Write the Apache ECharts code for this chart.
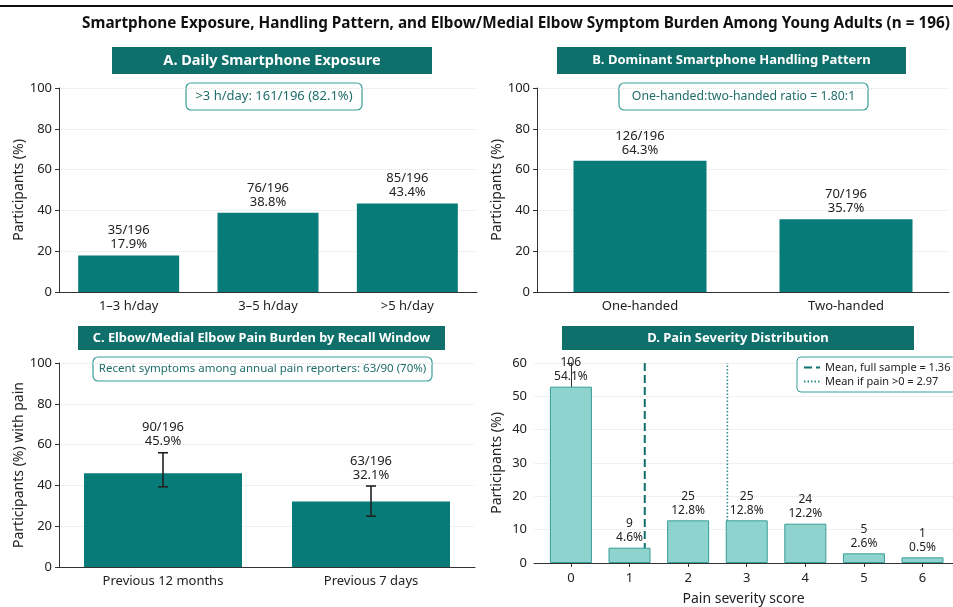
<!DOCTYPE html>
<html>
<head>
<meta charset="utf-8">
<script src="https://cdn.jsdelivr.net/npm/echarts@6/dist/echarts.min.js"></script>
<style>
  html, body { margin: 0; padding: 0; background: #fff; }
  #chart { width: 953px; height: 607px; }
</style>
</head>
<body>
<div id="chart"></div>
<script>
  // A. daily exposure
  const exposureCats = ['1–3 h/day', '3–5 h/day', '>5 h/day'];
  const exposurePct = [17.9, 38.8, 43.4];
  const exposureCounts = ['35/196', '76/196', '85/196'];

  // B. handling pattern
  const handCats = ['One-handed', 'Two-handed'];
  const handPct = [64.3, 35.7];
  const handCounts = ['126/196', '70/196'];

  // C. pain by recall window (with CI)
  const painCats = ['Previous 12 months', 'Previous 7 days'];
  const painPct = [45.9, 32.1];
  const painCounts = ['90/196', '63/196'];
  const painLow = [39.3, 24.9];
  const painHigh = [56.0, 39.7];

  // D. severity distribution
  const scores = [0, 1, 2, 3, 4, 5, 6];
  const scorePct = [52.9, 4.6, 12.8, 12.8, 11.8, 2.9, 1.7];
  const scoreCounts = ['106', '9', '25', '25', '24', '5', '1'];
  const scoreLabels = ['54.1%', '4.6%', '12.8%', '12.8%', '12.2%', '2.6%', '0.5%'];
  const meanLinePos = [1.26, 2.67]; // where the lines sit in the figure
  const meanNames = ['Mean, full sample = 1.36', 'Mean if pain >0 = 2.97'];

  const DARK = '#0f6f6b';
  const BAR = '#077b77';
  const LIGHT = '#8fd3cf';
  const TXT = '#222';
  const FONT = '"Noto Sans", sans-serif';

  let chartDom = document.getElementById('chart');
  let myChart = echarts.init(chartDom);

  function yAxisCfg(gridIndex, max, interval, name) {
    return {
      type: 'value', gridIndex: gridIndex, min: 0, max: max, interval: interval,
      name: name, nameLocation: 'middle', nameGap: 30,
      nameTextStyle: { fontSize: 14, color: TXT },
      axisLine: { show: true, lineStyle: { color: '#333' } },
      axisTick: { show: true, length: 4, lineStyle: { color: '#333' } },
      axisLabel: { fontSize: 13, color: TXT, margin: 7 },
      splitLine: { lineStyle: { color: '#e2e2e2', type: 'dotted' } }
    };
  }

  function xCatCfg(gridIndex, data) {
    return {
      type: 'category', gridIndex: gridIndex, data: data,
      axisLine: { lineStyle: { color: '#333' } },
      axisTick: { alignWithLabel: true, length: 3, lineStyle: { color: '#333' } },
      axisLabel: { fontSize: 13, color: TXT, margin: 8 }
    };
  }

  function header(x, y, w, h, text, size) {
    return {
      type: 'group', children: [
        { type: 'rect', shape: { x: x, y: y, width: w, height: h }, style: { fill: DARK } },
        { type: 'text', x: x + w / 2, y: y + h / 2,
          style: { text: text, fill: '#fff', font: 'bold ' + size + 'px ' + FONT, align: 'center', verticalAlign: 'middle' } }
      ]
    };
  }

  function note(x, y, w, h, text, size) {
    return {
      type: 'group', children: [
        { type: 'rect', shape: { x: x, y: y, width: w, height: h, r: 5 },
          style: { fill: '#fff', stroke: '#3a9e98', lineWidth: 1.2 } },
        { type: 'text', x: x + w / 2, y: y + h / 2,
          style: { text: text, fill: '#1f6e6a', font: size + 'px ' + FONT, align: 'center', verticalAlign: 'middle' } }
      ]
    };
  }

  const barLabel = {
    show: true, position: 'top', distance: 4,
    fontSize: 13, lineHeight: 14, color: TXT
  };

  let option = {
    textStyle: { fontFamily: FONT },
    animation: false,
    grid: [
      { left: 59, top: 88, width: 418, height: 204 },
      { left: 537, top: 88, width: 412, height: 204 },
      { left: 59, top: 363, width: 416, height: 204 },
      { left: 534, top: 363, width: 419, height: 205 }
    ],
    xAxis: [
      xCatCfg(0, exposureCats),
      xCatCfg(1, handCats),
      xCatCfg(2, painCats),
      {
        type: 'value', gridIndex: 3, min: -0.63, max: 6.52,
        name: 'Pain severity score', nameLocation: 'middle', nameGap: 29,
        nameTextStyle: { fontSize: 14, color: TXT },
        axisLine: { show: true, onZero: false, lineStyle: { color: '#333' } },
        axisTick: { show: true, length: 4, customValues: scores, lineStyle: { color: '#333' } },
        axisLabel: { fontSize: 13, color: TXT, margin: 9, customValues: scores },
        splitLine: { show: false }
      }
    ],
    yAxis: [
      yAxisCfg(0, 100, 20, 'Participants (%)'),
      yAxisCfg(1, 100, 20, 'Participants (%)'),
      yAxisCfg(2, 100, 20, 'Participants (%) with pain'),
      yAxisCfg(3, 60, 10, 'Participants (%)')
    ],
    legend: {
      data: meanNames,
      orient: 'vertical', left: 797, top: 357,
      backgroundColor: '#fff', borderColor: '#3a9e98', borderWidth: 1, borderRadius: 4,
      padding: [5, 6], itemWidth: 16, itemHeight: 10, itemGap: 3,
      itemStyle: { opacity: 0 },
      textStyle: { fontSize: 11, color: TXT }
    },
    graphic: [
      { type: 'rect', shape: { x: 0, y: 5, width: 953, height: 2 }, style: { fill: '#111' } },
      { type: 'text', x: 516, y: 24,
        style: { text: 'Smartphone Exposure, Handling Pattern, and Elbow/Medial Elbow Symptom Burden Among Young Adults (n = 196)',
                 fill: '#111', font: 'bold 15.3px ' + FONT, align: 'center', verticalAlign: 'middle' } },
      header(112, 47, 320, 27, 'A. Daily Smartphone Exposure', 14.5),
      header(557, 47, 349, 27, 'B. Dominant Smartphone Handling Pattern', 13),
      header(78, 326, 367, 24, 'C. Elbow/Medial Elbow Pain Burden by Recall Window', 12.8),
      header(562, 326, 352, 24, 'D. Pain Severity Distribution', 13),
      note(186, 83, 176, 27, '>3 h/day: 161/196 (82.1%)', 13),
      note(619, 83, 249, 27, 'One-handed:two-handed ratio = 1.80:1', 12.3),
      note(93, 357, 339, 24, 'Recent symptoms among annual pain reporters: 63/90 (70%)', 11.5)
    ],
    series: [
      {
        type: 'bar', xAxisIndex: 0, yAxisIndex: 0, barWidth: 101,
        itemStyle: { color: BAR },
        label: Object.assign({}, barLabel, {
          formatter: p => exposureCounts[p.dataIndex] + '\n' + exposurePct[p.dataIndex].toFixed(1) + '%'
        }),
        data: exposurePct
      },
      {
        type: 'bar', xAxisIndex: 1, yAxisIndex: 1, barWidth: 133,
        itemStyle: { color: BAR },
        label: Object.assign({}, barLabel, {
          formatter: p => handCounts[p.dataIndex] + '\n' + handPct[p.dataIndex].toFixed(1) + '%'
        }),
        data: handPct
      },
      {
        type: 'bar', xAxisIndex: 2, yAxisIndex: 2, barWidth: 158,
        itemStyle: { color: BAR },
        data: painPct
      },
      {
        // error bars + labels above them
        type: 'custom', xAxisIndex: 2, yAxisIndex: 2, z: 5,
        data: painCats.map((c, i) => [i, painLow[i], painHigh[i]]),
        renderItem: (params, api) => {
          const i = params.dataIndex;
          const lo = api.coord([api.value(0), api.value(1)]);
          const hi = api.coord([api.value(0), api.value(2)]);
          const st = { stroke: '#222', lineWidth: 1.6 };
          return {
            type: 'group', children: [
              { type: 'line', shape: { x1: lo[0], y1: lo[1], x2: hi[0], y2: hi[1] }, style: st },
              { type: 'line', shape: { x1: lo[0] - 5, y1: lo[1], x2: lo[0] + 5, y2: lo[1] }, style: st },
              { type: 'line', shape: { x1: hi[0] - 5, y1: hi[1], x2: hi[0] + 5, y2: hi[1] }, style: st },
              { type: 'text', x: hi[0], y: hi[1] - 4,
                style: { text: painCounts[i] + '\n' + painPct[i].toFixed(1) + '%', fill: TXT,
                         font: '13px ' + FONT, lineHeight: 14, align: 'center', verticalAlign: 'bottom' } }
            ]
          };
        }
      },
      {
        type: 'bar', xAxisIndex: 3, yAxisIndex: 3, barWidth: 42, z: 3,
        itemStyle: { color: LIGHT, borderColor: '#3a9e98', borderWidth: 1 },
        label: Object.assign({}, barLabel, {
          fontSize: 12, lineHeight: 14, distance: 3,
          formatter: p => scoreCounts[p.dataIndex] + '\n' + scoreLabels[p.dataIndex]
        }),
        data: scores.map((s, i) => [s, scorePct[i]])
      },
      {
        name: meanNames[0], type: 'line', xAxisIndex: 3, yAxisIndex: 3, z: 1,
        symbol: 'none', color: DARK,
        lineStyle: { color: DARK, width: 2, type: [8, 4] },
        data: [[meanLinePos[0], 0], [meanLinePos[0], 60]]
      },
      {
        name: meanNames[1], type: 'line', xAxisIndex: 3, yAxisIndex: 3, z: 1,
        symbol: 'none', color: '#2b8f89',
        lineStyle: { color: '#2b8f89', width: 1.6, type: [1.5, 2] },
        data: [[meanLinePos[1], 0], [meanLinePos[1], 60]]
      }
    ]
  };
  option && myChart.setOption(option);
</script>
</body>
</html>
